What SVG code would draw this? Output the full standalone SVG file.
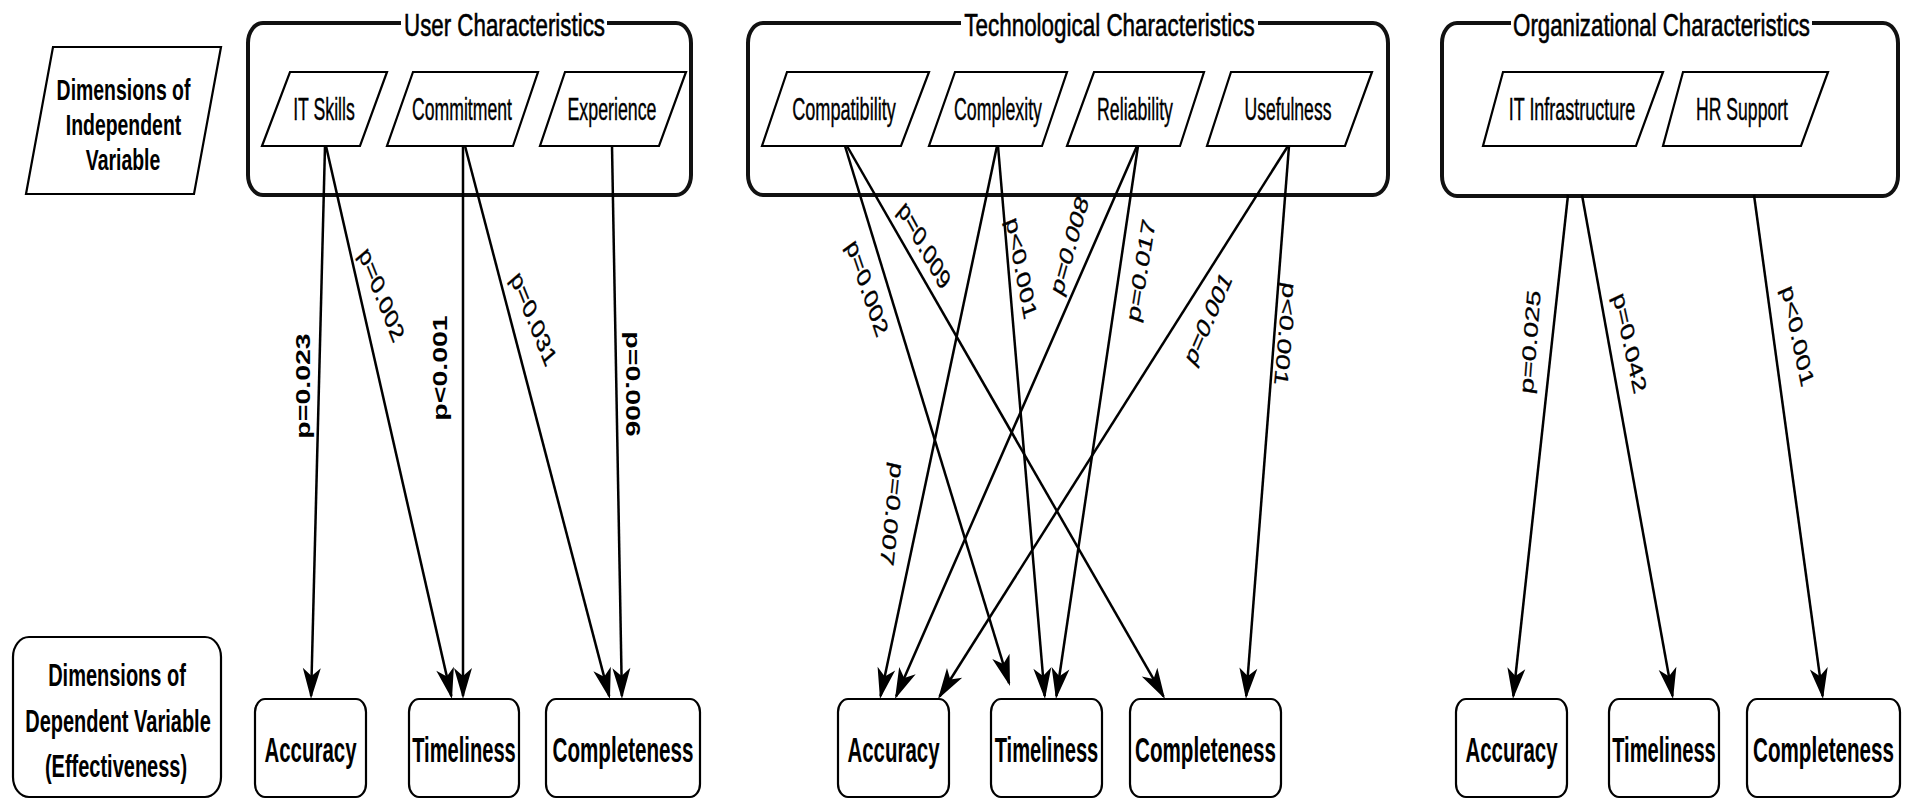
<svg xmlns="http://www.w3.org/2000/svg" width="1905" height="799" viewBox="0 0 1905 799">
<defs>
<style>
.box{fill:#fff;stroke:#000;stroke-width:2.2}
.cont{fill:#fff;stroke:#111;stroke-width:4}
.para{fill:#fff;stroke:#000;stroke-width:2.2}
.edge{fill:none;stroke:#000;stroke-width:2.5;marker-end:url(#ah)}
text{font-family:"Liberation Sans",Arial,sans-serif;fill:#000}
.t-dim{font-size:29px;font-weight:bold}
.t-title{font-size:32px;stroke:#000;stroke-width:0.6}
.t-par{font-size:31px;stroke:#000;stroke-width:0.4}
.t-out{font-size:36px;font-weight:bold}
.t-dep{font-size:32px;font-weight:bold}
.lab{font-size:28.5px;stroke:#000;stroke-width:0.4}
.labb{font-size:28.5px;font-weight:bold}
</style>
<marker id="ah" viewBox="-31 -10 35 20" refX="0" refY="0" markerWidth="35" markerHeight="20" markerUnits="userSpaceOnUse" orient="auto">
<path d="M3,0 L-28,-9 L-20,0 L-28,9 Z" fill="#000"/>
</marker>
</defs>
<rect width="1905" height="799" fill="#fff"/>

<g id="indep-label">
<polygon class="para" points="53,47 221,47 194,194 26,194"/>
<text class="t-dim" transform="translate(123.5,100) scale(0.67,1)" text-anchor="middle">Dimensions of</text>
<text class="t-dim" transform="translate(123.5,135) scale(0.67,1)" text-anchor="middle">Independent</text>
<text class="t-dim" transform="translate(123,170) scale(0.67,1)" text-anchor="middle">Variable</text>
</g>

<g id="dep-label">
<rect class="box" x="13" y="637" width="208" height="160" rx="16" ry="20"/>
<text class="t-dep" transform="translate(117,686) scale(0.625,1)" text-anchor="middle">Dimensions of</text>
<text class="t-dep" transform="translate(118,732) scale(0.625,1)" text-anchor="middle">Dependent Variable</text>
<text class="t-dep" transform="translate(116,777) scale(0.625,1)" text-anchor="middle">(Effectiveness)</text>
</g>

<g id="user-characteristics">
<rect class="cont" x="248" y="23" width="443" height="172" rx="15" ry="20"/>
<rect x="401" y="8" width="206" height="32" fill="#fff"/>
<text class="t-title" transform="translate(504.5,36) scale(0.698,1)" text-anchor="middle">User Characteristics</text>
</g>
<g id="it-skills">
<polygon class="para" points="290,72 387,72 360,146 262,146"/>
<text class="t-par" transform="translate(324,120) scale(0.571,1)" text-anchor="middle">IT Skills</text>
</g>
<g id="commitment">
<polygon class="para" points="413,72 538,72 513,146 387,146"/>
<text class="t-par" transform="translate(462,120) scale(0.569,1)" text-anchor="middle">Commitment</text>
</g>
<g id="experience">
<polygon class="para" points="565,72 686,72 659,146 540,146"/>
<text class="t-par" transform="translate(612,120) scale(0.574,1)" text-anchor="middle">Experience</text>
</g>

<g id="technological-characteristics">
<rect class="cont" x="748" y="23" width="640" height="172" rx="15" ry="20"/>
<rect x="961" y="8" width="297" height="32" fill="#fff"/>
<text class="t-title" transform="translate(1109.5,36) scale(0.701,1)" text-anchor="middle">Technological Characteristics</text>
</g>
<g id="compatibility">
<polygon class="para" points="787,72 929,72 901,146 762,146"/>
<text class="t-par" transform="translate(844,120) scale(0.585,1)" text-anchor="middle">Compatibility</text>
</g>
<g id="complexity">
<polygon class="para" points="955,72 1067,72 1042,146 929,146"/>
<text class="t-par" transform="translate(998,120) scale(0.574,1)" text-anchor="middle">Complexity</text>
</g>
<g id="reliability">
<polygon class="para" points="1094,72 1204,72 1180,146 1067,146"/>
<text class="t-par" transform="translate(1135,120) scale(0.573,1)" text-anchor="middle">Reliability</text>
</g>
<g id="usefulness">
<polygon class="para" points="1231,72 1372,72 1345,146 1207,146"/>
<text class="t-par" transform="translate(1288,120) scale(0.567,1)" text-anchor="middle">Usefulness</text>
</g>

<g id="organizational-characteristics">
<rect class="cont" x="1442" y="23" width="456" height="173" rx="15" ry="20"/>
<rect x="1511" y="8" width="301" height="32" fill="#fff"/>
<text class="t-title" transform="translate(1661.5,36) scale(0.696,1)" text-anchor="middle">Organizational Characteristics</text>
</g>
<g id="it-infrastructure">
<polygon class="para" points="1503,72 1663,72 1636,146 1483,146"/>
<text class="t-par" transform="translate(1572,120) scale(0.58,1)" text-anchor="middle">IT Infrastructure</text>
</g>
<g id="hr-support">
<polygon class="para" points="1683,72 1828,72 1801,146 1663,146"/>
<text class="t-par" transform="translate(1742,120) scale(0.568,1)" text-anchor="middle">HR Support</text>
</g>

<g id="user-accuracy"><rect class="box" x="255" y="699" width="111" height="98" rx="10" ry="13"/><text class="t-out" transform="translate(310.5,762) scale(0.568,1)" text-anchor="middle">Accuracy</text></g>
<g id="user-timeliness"><rect class="box" x="409" y="699" width="110" height="98" rx="10" ry="13"/><text class="t-out" transform="translate(464,762) scale(0.559,1)" text-anchor="middle">Timeliness</text></g>
<g id="user-completeness"><rect class="box" x="546" y="699" width="154" height="98" rx="10" ry="13"/><text class="t-out" transform="translate(623,762) scale(0.573,1)" text-anchor="middle">Completeness</text></g>

<g id="tech-accuracy"><rect class="box" x="838" y="699" width="111" height="98" rx="10" ry="13"/><text class="t-out" transform="translate(893.5,762) scale(0.568,1)" text-anchor="middle">Accuracy</text></g>
<g id="tech-timeliness"><rect class="box" x="991" y="699" width="111" height="98" rx="10" ry="13"/><text class="t-out" transform="translate(1046.5,762) scale(0.559,1)" text-anchor="middle">Timeliness</text></g>
<g id="tech-completeness"><rect class="box" x="1130" y="699" width="151" height="98" rx="10" ry="13"/><text class="t-out" transform="translate(1205.5,762) scale(0.573,1)" text-anchor="middle">Completeness</text></g>

<g id="org-accuracy"><rect class="box" x="1456" y="699" width="111" height="98" rx="10" ry="13"/><text class="t-out" transform="translate(1511.5,762) scale(0.568,1)" text-anchor="middle">Accuracy</text></g>
<g id="org-timeliness"><rect class="box" x="1609" y="699" width="110" height="98" rx="10" ry="13"/><text class="t-out" transform="translate(1664,762) scale(0.559,1)" text-anchor="middle">Timeliness</text></g>
<g id="org-completeness"><rect class="box" x="1747" y="699" width="153" height="98" rx="10" ry="13"/><text class="t-out" transform="translate(1823.5,762) scale(0.573,1)" text-anchor="middle">Completeness</text></g>

<g id="connectors">
<line class="edge" x1="325" y1="146" x2="311.1" y2="696"/>
<line class="edge" x1="326" y1="146" x2="451.3" y2="696.1"/>
<line class="edge" x1="463" y1="146" x2="463" y2="696"/>
<line class="edge" x1="465" y1="146" x2="609.2" y2="696.1"/>
<line class="edge" x1="612" y1="146" x2="621.9" y2="696"/>

<line class="edge" x1="845" y1="146" x2="1009.1" y2="683.1"/>
<line class="edge" x1="847" y1="146" x2="1163.5" y2="696.4"/>
<line class="edge" x1="997" y1="146" x2="880.6" y2="696.1"/>
<line class="edge" x1="998" y1="146" x2="1044.7" y2="696"/>
<line class="edge" x1="1137" y1="146" x2="896.2" y2="696.3"/>
<line class="edge" x1="1138" y1="146" x2="1056.4" y2="696"/>
<line class="edge" x1="1288" y1="146" x2="939.6" y2="696.5"/>
<line class="edge" x1="1289" y1="146" x2="1246.2" y2="696"/>

<line class="edge" x1="1568" y1="195" x2="1513.3" y2="696"/>
<line class="edge" x1="1582" y1="195" x2="1672.5" y2="696"/>
<line class="edge" x1="1754" y1="195" x2="1822.6" y2="696"/>
</g>

<g id="connector-labels">
<text class="labb" transform="translate(304,386) scale(0.68,1) rotate(-90)" text-anchor="middle" dy="0.3em">p=0.023</text>
<text class="lab" transform="translate(381,295) scale(0.68,1) rotate(59.8)" text-anchor="middle" dy="0.3em">p=0.002</text>
<text class="labb" transform="translate(441.5,368) scale(0.68,1) rotate(-90)" text-anchor="middle" dy="0.3em">p&lt;0.001</text>
<text class="lab" transform="translate(533,319) scale(0.68,1) rotate(59.5)" text-anchor="middle" dy="0.3em">p=0.031</text>
<text class="labb" transform="translate(632,384) scale(0.68,1) rotate(90)" text-anchor="middle" dy="0.3em">p=0.006</text>

<text class="lab" transform="translate(923.8,245.8) scale(0.68,1) rotate(51.2)" text-anchor="middle" dy="0.3em">p=0.009</text>
<text class="lab" transform="translate(866.6,288.3) scale(0.68,1) rotate(63.5)" text-anchor="middle" dy="0.3em">p=0.002</text>
<text class="lab" transform="translate(1020.7,268.3) scale(0.68,1) rotate(74.7)" text-anchor="middle" dy="0.3em">p&lt;0.001</text>
<text class="lab" transform="translate(1070.2,245.8) scale(0.68,1) rotate(-67.5)" text-anchor="middle" dy="0.3em">p=0.008</text>
<text class="lab" transform="translate(1141.6,270.8) scale(0.68,1) rotate(-76.6)" text-anchor="middle" dy="0.3em">p=0.017</text>
<text class="lab" transform="translate(1208.6,319) scale(0.68,1) rotate(-57.3)" text-anchor="middle" dy="0.3em">p=0.001</text>
<text class="lab" transform="translate(1284.5,334) scale(0.68,1) rotate(97.3)" text-anchor="middle" dy="0.3em">p&lt;0.001</text>
<text class="lab" transform="translate(891.3,514) scale(0.68,1) rotate(98.8)" text-anchor="middle" dy="0.3em">p=0.007</text>

<text class="lab" transform="translate(1531,342) scale(0.68,1) rotate(-83.5)" text-anchor="middle" dy="0.3em">p=0.025</text>
<text class="lab" transform="translate(1629,343) scale(0.68,1) rotate(72.2)" text-anchor="middle" dy="0.3em">p=0.042</text>
<text class="lab" transform="translate(1797,336) scale(0.68,1) rotate(73.4)" text-anchor="middle" dy="0.3em">p&lt;0.001</text>
</g>
</svg>
